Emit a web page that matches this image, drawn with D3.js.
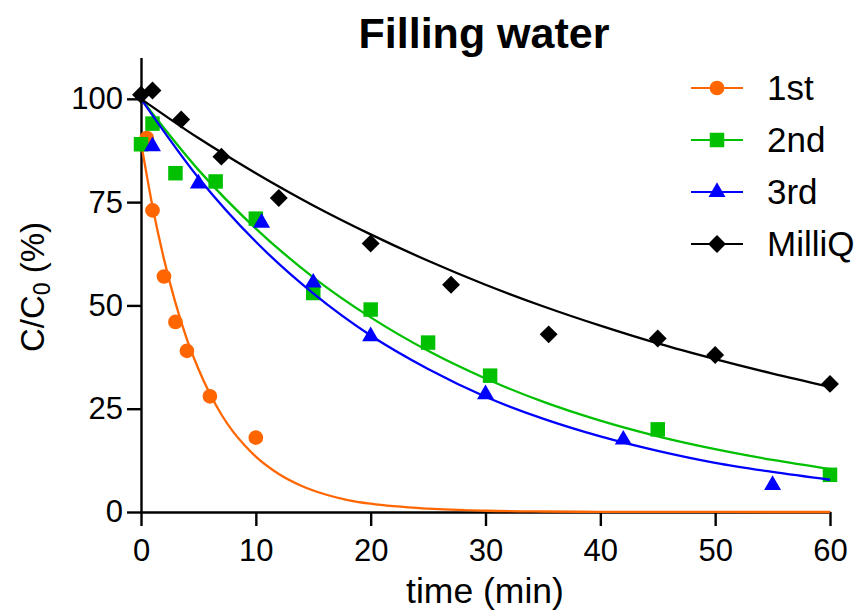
<!DOCTYPE html>
<html>
<head>
<meta charset="utf-8">
<script src="https://cdn.jsdelivr.net/npm/d3@7/dist/d3.min.js"></script>
<style>
  body { margin: 0; background: #fff; }
  svg { display: block; }
  text { font-family: "Liberation Sans", Arial, sans-serif; fill: #000; }
</style>
</head>
<body>
<svg id="chart" width="856" height="616"></svg>
<script>
// ---- data ----
const seriesNames = ["1st", "2nd", "3rd", "MilliQ"];
const seriesColors = ["#ff6600", "#00c000", "#0000ff", "#000000"];
const seriesSymbols = ["circle", "square", "triangle", "diamond"];

// measured points
const t1st = [0.5, 1, 2, 3, 4, 6, 10];
const v1st = [90.5, 73, 57, 46, 39, 28, 18];
const t2nd = [0, 1, 3, 6.5, 10, 15, 20, 25, 30.4, 45, 60];
const v2nd = [89, 94, 82, 80, 71, 53, 49, 41, 33, 20, 9];
const t3rd = [1, 5, 10.5, 15, 20, 30, 42, 55];
const v3rd = [88.5, 79.5, 70, 55.5, 42.5, 28.5, 17.5, 6.5];
const tMilliQ = [0, 1, 3.5, 7, 12, 20, 27, 35.5, 45, 50, 60];
const vMilliQ = [101, 102, 95, 86, 76, 65, 55, 43, 42, 38, 31];

// fitted decay curves
const fitT1st = [0, 1, 2, 3, 4, 5, 6, 7, 8, 9, 10, 12, 14, 16, 18, 20, 25, 30, 35, 40, 50, 60];
const fitV1st = [89.5, 74.0, 61.2, 50.6, 41.8, 34.6, 28.6, 23.6, 19.5, 16.2, 13.4, 9.2, 6.3, 4.3, 2.9, 2.0, 0.8, 0.3, 0.12, 0.04, 0.01, 0];
const fitT = [0, 5, 10, 15, 20, 25, 30, 35, 40, 45, 50, 55, 60];
const fitV2nd = [100, 82.8, 68.6, 56.8, 47.1, 39.0, 32.3, 26.7, 22.1, 18.3, 15.2, 12.6, 10.4];
const fitV3rd = [100, 80.9, 65.4, 52.9, 42.7, 34.6, 27.9, 22.6, 18.3, 14.8, 11.9, 9.7, 7.8];
const fitVMilliQ = [100, 90.5, 82.0, 74.2, 67.2, 60.8, 55.0, 49.8, 45.1, 40.8, 37.0, 33.5, 30.3];

const xTicks = [0, 10, 20, 30, 40, 50, 60];
const yTicks = [0, 25, 50, 75, 100];

const titleText = "Filling water";
const xLabel = "time (min)";

// ---- build ----
const pts = [[t1st, v1st], [t2nd, v2nd], [t3rd, v3rd], [tMilliQ, vMilliQ]];
const fits = [[fitT1st, fitV1st], [fitT, fitV2nd], [fitT, fitV3rd], [fitT, fitVMilliQ]];

const svg = d3.select("#chart");
const x = d3.scaleLinear().domain([0, 60]).range([141, 830]);
const y = d3.scaleLinear().domain([0, 110]).range([512, 57.5]);

const symbolPath = {
  circle: d3.symbol().type(d3.symbolCircle).size(170)(),
  square: d3.symbol().type(d3.symbolSquare).size(210)(),
  triangle: d3.symbol().type(d3.symbolTriangle).size(125)(),
  diamond: d3.symbol().type(d3.symbolSquare).size(160)()
};
function symTransform(type, px, py) {
  return type === "diamond" ? `translate(${px},${py}) rotate(45)` : `translate(${px},${py})`;
}

// axes
const xAxis = d3.axisBottom(x).tickValues(xTicks).tickSize(14).tickSizeOuter(0).tickPadding(13);
const yAxis = d3.axisLeft(y).tickValues(yTicks).tickSize(14).tickSizeOuter(0).tickPadding(4);

const gx = svg.append("g").attr("transform", "translate(0,512)").call(xAxis);
const gy = svg.append("g").attr("transform", "translate(141,0)").call(yAxis);
[gx, gy].forEach(g => {
  g.selectAll("path.domain").attr("stroke", "#000").attr("stroke-width", 2.4);
  g.selectAll(".tick line").attr("stroke", "#000").attr("stroke-width", 2.4);
  g.selectAll(".tick text").attr("font-size", 31).attr("font-family", "Liberation Sans, Arial, sans-serif").attr("fill", "#000");
});

// series
const line = d3.line().x(d => x(d[0])).y(d => y(d[1])).curve(d3.curveMonotoneX);
seriesNames.forEach((name, i) => {
  const [ft, fv] = fits[i];
  const fd = ft.map((t, j) => [t, fv[j]]);
  svg.append("path").datum(fd)
    .attr("d", line).attr("fill", "none")
    .attr("stroke", seriesColors[i]).attr("stroke-width", 2.3);
  const [pt, pv] = pts[i];
  const pd = pt.map((t, j) => [t, pv[j]]);
  svg.append("g").selectAll("path").data(pd).join("path")
    .attr("d", symbolPath[seriesSymbols[i]])
    .attr("transform", d => symTransform(seriesSymbols[i], x(d[0]), y(d[1])))
    .attr("fill", seriesColors[i]);
});

// legend
const legendRows = [88, 140, 192, 244];
const lg = svg.append("g");
seriesNames.forEach((name, i) => {
  const ry = legendRows[i];
  lg.append("line").attr("x1", 691).attr("x2", 743).attr("y1", ry).attr("y2", ry)
    .attr("stroke", seriesColors[i]).attr("stroke-width", 2.2);
  lg.append("path").attr("d", symbolPath[seriesSymbols[i]])
    .attr("transform", symTransform(seriesSymbols[i], 717, ry))
    .attr("fill", seriesColors[i]);
  lg.append("text").attr("x", 767).attr("y", ry + 12)
    .attr("font-size", 35).text(name);
});

// title
svg.append("text").attr("x", 484).attr("y", 48).attr("text-anchor", "middle")
  .attr("font-size", 43).attr("font-weight", "bold").text(titleText);

// x label
svg.append("text").attr("x", 485).attr("y", 603).attr("text-anchor", "middle")
  .attr("font-size", 35.5).text(xLabel);

// y label
const yl = svg.append("text").attr("transform", "translate(44,287) rotate(-90)")
  .attr("text-anchor", "middle").attr("font-size", 33);
yl.append("tspan").text("C/C");
yl.append("tspan").attr("font-size", 23).attr("dy", 6).text("0");
yl.append("tspan").attr("dy", -6).text(" (%)");
</script>
</body>
</html>
